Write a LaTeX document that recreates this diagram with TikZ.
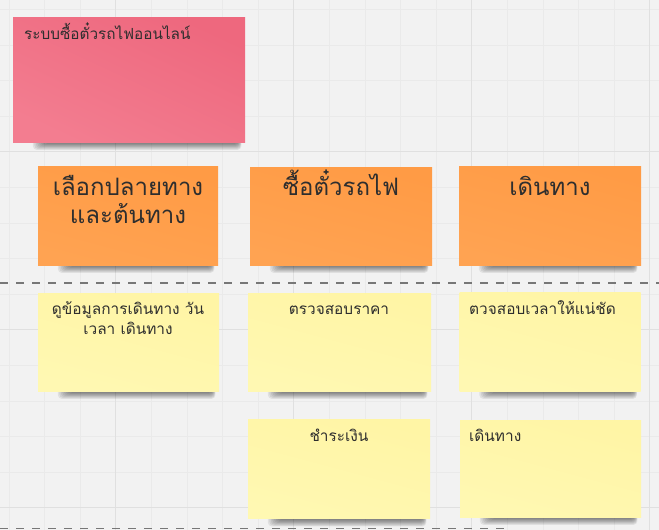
\documentclass[tikz,border=0pt]{standalone}
\usepackage{fontspec}
\newfontfamily\thaifont[Script=Thai]{Loma}
\usetikzlibrary{calc}
\definecolor{bgc}{HTML}{F2F2F2}
\definecolor{gridminor}{HTML}{EAEAEA}
\definecolor{gridmajor}{HTML}{E0E0E0}
\definecolor{pinkA}{HTML}{EE687E}
\definecolor{pinkB}{HTML}{F37D90}
\definecolor{orangeA}{HTML}{FF9B45}
\definecolor{orangeB}{HTML}{FFA352}
\definecolor{yellowA}{HTML}{FFF5A5}
\definecolor{yellowB}{HTML}{FFF8B2}
\definecolor{txtc}{HTML}{2E2E2E}
\definecolor{dashc}{HTML}{777777}
\pgfdeclarelayer{bglayer}
\pgfdeclarelayer{shadowlayer}
\pgfsetlayers{bglayer,shadowlayer,main}
\newcommand\noteshadow[1]{%
  \foreach \k in {1,...,8}{%
    \fill[black, opacity=0.07, rounded corners=4]
      ($(#1.south west)+(32-\k*1.5,-4)$) rectangle ($(#1.south east)+(-7+\k*0.4,0.5+\k*0.9)$);
  }%
}
\begin{document}
\begin{tikzpicture}[x=1pt,y=-1pt,
  notebase/.style={rectangle, inner sep=0pt, draw=none},
  pinknote/.style={notebase, top color=pinkA, bottom color=pinkB, shading angle=-25},
  orangenote/.style={notebase, top color=orangeA, bottom color=orangeB, shading angle=-15},
  yellownote/.style={notebase, top color=yellowA, bottom color=yellowB, shading angle=-15},
  txt/.style={font=\thaifont, text=txtc, inner sep=0pt},
  smalltxt/.style={txt, font=\thaifont\fontsize{15.4}{20}\selectfont, align=center},
  bigtxt/.style={txt, font=\thaifont\fontsize{24}{28.5}\selectfont, align=center},
  titletxt/.style={txt, font=\thaifont\fontsize{15.3}{18}\selectfont},
  lanedash/.style={draw=dashc, line width=1.8pt, dash pattern=on 7.5pt off 8.5pt}
]
\useasboundingbox (0,0) rectangle (659,530);
\begin{pgfonlayer}{bglayer}
  \fill[bgc] (0,0) rectangle (659,530);
  \foreach \k in {0,...,18} \draw[gridminor, line width=0.8pt] (8.9+\k*35.6,0) -- (8.9+\k*35.6,530);
  \foreach \k in {0,...,14} \draw[gridminor, line width=0.8pt] (0,9.3+\k*35.6) -- (659,9.3+\k*35.6);
  \foreach \xx in {115.7,293.7,471.7,649.7} \draw[gridmajor, line width=1.4pt] (\xx,0) -- (\xx,530);
  \foreach \yy in {151.7,329.7,507.7} \draw[gridmajor, line width=1.4pt] (0,\yy) -- (659,\yy);
\end{pgfonlayer}

% notes
\node[pinknote, minimum width=232pt, minimum height=125pt] (title) at (129,79.5) {};
\node[orangenote, minimum width=180pt, minimum height=99pt] (o1) at (128,215.5) {};
\node[orangenote, minimum width=182pt, minimum height=98pt] (o2) at (341,216) {};
\node[orangenote, minimum width=182pt, minimum height=99pt] (o3) at (550,215.5) {};
\node[yellownote, minimum width=181pt, minimum height=98pt] (y1) at (128.5,342) {};
\node[yellownote, minimum width=183pt, minimum height=98pt] (y2) at (339.5,342) {};
\node[yellownote, minimum width=181pt, minimum height=99pt] (y3) at (550,341.5) {};
\node[yellownote, minimum width=182pt, minimum height=99pt] (y4) at (339,469) {};
\node[yellownote, minimum width=181pt, minimum height=97pt] (y5) at (550.5,468.5) {};

\begin{pgfonlayer}{shadowlayer}
  \foreach \n in {title,o1,o2,o3,y1,y2,y3,y4,y5} {\noteshadow{\n}}
\end{pgfonlayer}

% texts
\node[titletxt, anchor=base west] (ttitle) at (24,39) {ระบบซื้อตั๋วรถไฟออนไลน์};
\node[bigtxt, anchor=base] (to1) at (128,223.5) {เลือกปลายทาง\\และต้นทาง};
\node[bigtxt, anchor=base] (to2) at (341,195.5) {ซื้อตั๋วรถไฟ};
\node[bigtxt, anchor=base] (to3) at (550,195) {เดินทาง};
\node[smalltxt, anchor=base] (ty1) at (128,334) {ดูข้อมูลการเดินทาง วัน\\เวลา เดินทาง};
\node[smalltxt, anchor=base] (ty2) at (339,314) {ตรวจสอบราคา};
\node[smalltxt, anchor=base west] (ty3) at (469,314) {ตวจสอบเวลาให้แน่ชัด};
\node[smalltxt, anchor=base] (ty4) at (339,441) {ชำระเงิน};
\node[smalltxt, anchor=base west] (ty5) at (469,441) {เดินทาง};

% lane separators
\coordinate (l1a) at (0,283);
\coordinate (l1b) at (659,283);
\coordinate (l2a) at (0,528.5);
\coordinate (l2b) at (505,528.5);
\draw[lanedash] (l1a) -- (l1b);
\draw[lanedash] (l2a) -- (l2b);
\end{tikzpicture}
\end{document}
